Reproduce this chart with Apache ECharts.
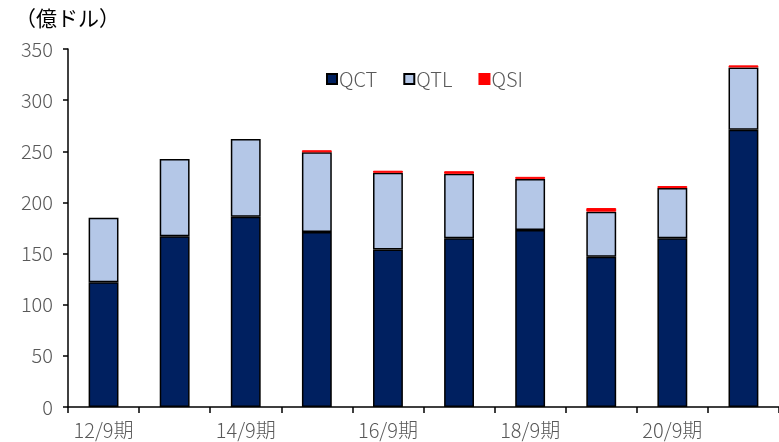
<!DOCTYPE html>
<html><head><meta charset="utf-8">
<script src="https://cdn.jsdelivr.net/npm/echarts@6/dist/echarts.min.js"></script>
<style>html,body{margin:0;padding:0;background:#fff}#c{width:779px;height:442px}</style>
</head><body><div id="c"></div>
<script>
const categories = ['12/9期','13/9期','14/9期','15/9期','16/9期','17/9期','18/9期','19/9期','20/9期','21/9期'];
const qct = [122, 167, 186, 171, 154, 165, 173, 147, 165, 271];
const qtl = [63, 75.5, 76, 78, 75, 63, 50, 44, 49, 61];
const qsi = [0, 0, 0, 2, 2, 2.5, 2, 3.5, 2, 2];
const yTicks = [0, 50, 100, 150, 200, 250, 300, 350];
const FONT = '"Noto Sans CJK JP", sans-serif';
const chart = echarts.init(document.getElementById('c'));
chart.setOption({
  animation: false,
  textStyle: {fontFamily: FONT},
  title: {text: '（億ドル）', left: 10, top: 3, textStyle: {fontSize: 21, fontWeight: 'normal', color: '#000', fontFamily: FONT}},
  legend: {
    left: 321, top: 64, itemWidth: 10, itemHeight: 10, itemGap: 26, icon: 'rect',
    textStyle: {fontSize: 20, fontWeight: 300, color: '#595959', padding: [0, 0, 0, -3], fontFamily: FONT},
    data: ['QCT', 'QTL', 'QSI']
  },
  grid: {left: 68, top: 49, width: 720, height: 358, containLabel: false},
  xAxis: {
    type: 'category', data: categories, boundaryGap: true,
    axisLine: {lineStyle: {color: '#000', width: 1.5}},
    axisTick: {show: true, interval: 0, length: 6, lineStyle: {color: '#000', width: 1.5}},
    axisLabel: {interval: 1, fontSize: 20, fontWeight: 300, color: '#595959', margin: 13, fontFamily: FONT}
  },
  yAxis: {
    type: 'value', min: yTicks[0], max: yTicks[yTicks.length - 1], interval: 50,
    splitLine: {show: false},
    axisLine: {show: true, lineStyle: {color: '#000', width: 1.5}},
    axisTick: {show: true, length: 5, lineStyle: {color: '#000', width: 1.5}},
    axisLabel: {fontSize: 20, fontWeight: 300, color: '#595959', margin: 15, fontFamily: FONT}
  },
  series: [
    {name: 'QCT', type: 'bar', stack: 's', data: qct, barWidth: '42%',
      itemStyle: {color: '#002060', borderColor: '#000', borderWidth: 1.5}},
    {name: 'QTL', type: 'bar', stack: 's', data: qtl,
      itemStyle: {color: '#B4C7E7', borderColor: '#000', borderWidth: 1.5}},
    {name: 'QSI', type: 'bar', stack: 's', data: qsi.map(v => v === 0 ? '-' : v),
      itemStyle: {color: '#FF0000', borderColor: '#FF0000', borderWidth: 1}}
  ]
});
</script></body></html>
